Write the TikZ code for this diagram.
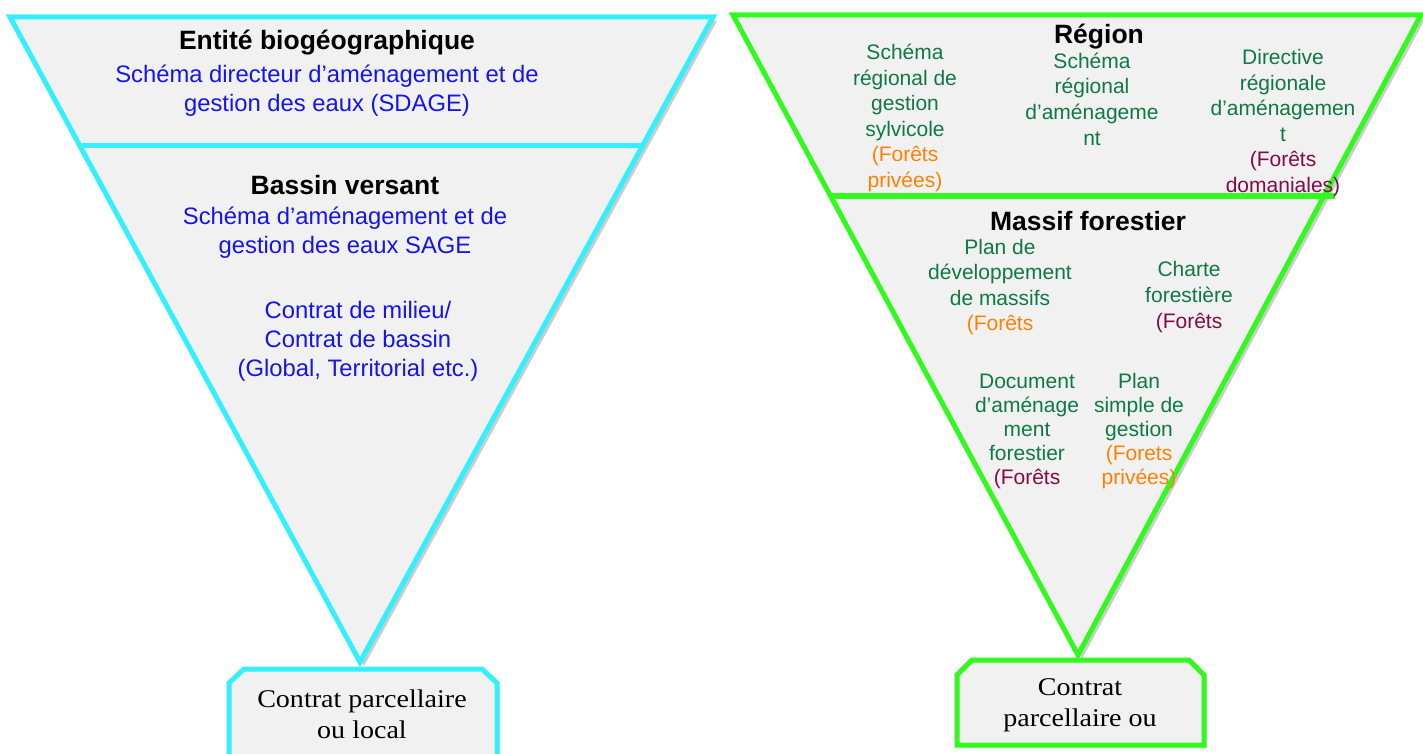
\documentclass[tikz,border=0pt]{standalone}
\usepackage{fontspec}
\setmainfont{Liberation Sans}
\newfontfamily\boxfont{Liberation Serif}[FakeStretch=1.1]
\usetikzlibrary{shadows}
\definecolor{cyanline}{RGB}{52,240,255}
\definecolor{greenline}{RGB}{50,250,30}
\definecolor{fillgray}{RGB}{241,241,241}
\definecolor{txtblue}{RGB}{20,20,235}
\definecolor{txtgreen}{RGB}{15,120,70}
\definecolor{txtorange}{RGB}{255,128,0}
\definecolor{txtpurple}{RGB}{130,10,70}
\begin{document}
\begin{tikzpicture}[x=1pt,y=-1pt,
  tri/.style={fill=fillgray, line width=5pt, line join=miter,
    drop shadow={shadow xshift=4pt,shadow yshift=-4pt,opacity=0.4}},
  divider/.style={line width=5pt},
  headtxt/.style={inner sep=0pt, font=\fontsize{26.5}{31}\selectfont\bfseries, text=black},
  bluetxt/.style={inner sep=0pt, align=center, text=txtblue, font=\fontsize{23.8}{29}\selectfont},
  greentxt/.style={inner sep=0pt, align=center, text=txtgreen, font=\fontsize{21}{25.6}\selectfont},
  greensmall/.style={inner sep=0pt, align=center, text=txtgreen, font=\fontsize{21}{24}\selectfont},
  boxtxt/.style={inner sep=0pt, align=center, text=black, font=\boxfont\fontsize{25.5}{31}\selectfont}
]
\useasboundingbox (0,0) rectangle (1423,754);
\fill[white] (0,0) rectangle (1423,754);

% ---------- left pyramid ----------
\draw[tri, draw=cyanline] (10,17) -- (713,17) -- (360,662) -- cycle;
\draw[divider, cyanline] (82,146) -- (641,146);
\node[headtxt] (ent) at (327,43) {Entité biogéographique};
\node[bluetxt] (sdage) at (327,91) {Schéma directeur d’aménagement et de\\gestion des eaux (SDAGE)};
\node[headtxt] (bv) at (345,185) {Bassin versant};
\node[bluetxt] (sage) at (345,233) {Schéma d’aménagement et de\\gestion des eaux SAGE};
\node[bluetxt] (cm) at (358,341) {Contrat de milieu/\\Contrat de bassin\\(Global, Territorial etc.)};

\draw[line width=5pt, draw=cyanline, fill=fillgray,
  drop shadow={shadow xshift=3pt,shadow yshift=-3pt,opacity=0.3}]
  (229,775) -- (229,683) -- (244,669) -- (482,669) -- (497,683) -- (497,775) -- cycle;
\node[boxtxt] (cl) at (362,714) {Contrat parcellaire\\ou local};

% ---------- right pyramid ----------
\draw[tri, draw=greenline] (733,15) -- (1421,15) -- (1078,655) -- cycle;
\draw[divider, greenline] (830,196) -- (1335,196);
\node[headtxt] (reg) at (1099,37) {Région};
\node[greentxt] (srgs) at (905,118) {Schéma\\régional de\\gestion\\sylvicole\\\textcolor{txtorange}{(Forêts}\\\textcolor{txtorange}{privées)}};
\node[greentxt] (sra) at (1092,99) {Schéma\\régional\\d’aménageme\\nt};
\node[greentxt] (dra) at (1283,123) {Directive\\régionale\\d’aménagemen\\t\\\textcolor{txtpurple}{(Forêts}\\\textcolor{txtpurple}{domaniales)}};
\node[headtxt] (mf) at (1088,221) {Massif forestier};
\node[greentxt] (pdm) at (1000,287) {Plan de\\développement\\de massifs\\\textcolor{txtorange}{(Forêts}};
\node[greentxt] (cf) at (1189,297) {Charte\\forestière\\\textcolor{txtpurple}{(Forêts}};
\node[greensmall] (daf) at (1027,431) {Document\\d’aménage\\ment\\forestier\\\textcolor{txtpurple}{(Forêts}};
\node[greensmall] (psg) at (1139,431) {Plan\\simple de\\gestion\\\textcolor{txtorange}{(Forets}\\\textcolor{txtorange}{privées)}};

\draw[line width=5pt, draw=greenline, fill=fillgray,
  drop shadow={shadow xshift=3pt,shadow yshift=-3pt,opacity=0.3}]
  (957,745) -- (957,675) -- (972,660) -- (1189,660) -- (1204,675) -- (1204,745) -- cycle;
\node[boxtxt] (cp) at (1080,705) {Contrat\\parcellaire ou};
\end{tikzpicture}
\end{document}
